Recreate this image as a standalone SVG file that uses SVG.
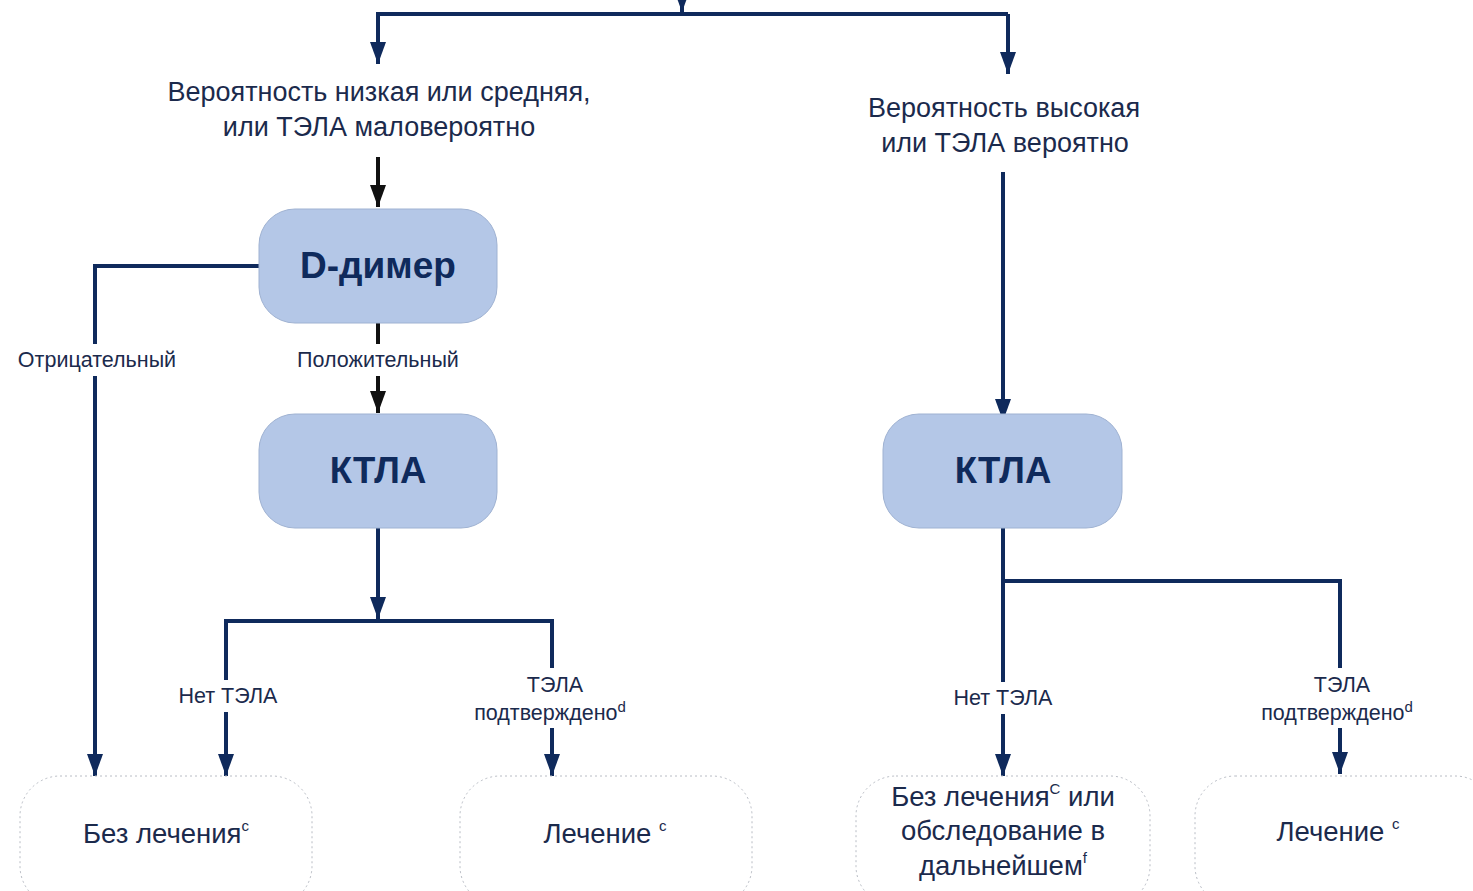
<svg xmlns="http://www.w3.org/2000/svg" width="1473" height="891" viewBox="0 0 1473 891">
<style>
.t{font-family:"Liberation Sans",Arial,sans-serif;fill:#1b2a4c;text-anchor:middle}
.big{font-size:27px}
.lbl{font-size:21.5px}
.out{font-size:27.5px}
.hd{font-family:"Liberation Sans",Arial,sans-serif;font-weight:bold;fill:#0f2a5c;text-anchor:middle}
.box{fill:#b4c7e7;stroke:#9fb2d2;stroke-width:1}
.obox{fill:#ffffff;stroke:#b8bcc4;stroke-width:1;stroke-dasharray:2 3}
.c{fill:none;stroke:#0f2a5c;stroke-width:4}
.k{fill:none;stroke:#111111;stroke-width:4}
.sup{font-size:15px}
</style>
<defs>
<marker id="a" viewBox="0 0 22 16" refX="22" refY="8" markerWidth="22" markerHeight="16" markerUnits="userSpaceOnUse" orient="auto"><path d="M0,0 L22,8 L0,16 z" fill="#0f2a5c"/></marker>
<marker id="ak" viewBox="0 0 22 16" refX="22" refY="8" markerWidth="22" markerHeight="16" markerUnits="userSpaceOnUse" orient="auto"><path d="M0,0 L22,8 L0,16 z" fill="#111111"/></marker>
</defs>
<rect width="1473" height="891" fill="#ffffff"/>
<g id="connectors">
<path class="c" d="M682,0 L682,12" marker-end="url(#a)"/>
<path class="c" d="M376,14 L1008,14"/>
<path class="c" d="M378,14 L378,64" marker-end="url(#a)"/>
<path class="c" d="M1008,14 L1008,74" marker-end="url(#a)"/>
<path class="k" d="M378,157 L378,207" marker-end="url(#ak)"/>
<path class="c" d="M1003,172 L1003,421" marker-end="url(#a)"/>
<path class="c" d="M259,266 L95,266 L95,776" marker-end="url(#a)"/>
<path class="k" d="M378,323 L378,413" marker-end="url(#ak)"/>
<path class="c" d="M378,528 L378,619" marker-end="url(#a)"/>
<path class="c" d="M226,776 L226,621 L552,621 L552,776" marker-end="url(#a)"/>
<path class="c" d="M226,640 L226,776" marker-end="url(#a)"/>
<path class="c" d="M1003,528 L1003,776" marker-end="url(#a)"/>
<path class="c" d="M1003,581 L1340,581 L1340,774" marker-end="url(#a)"/>
<rect x="8" y="344" width="180" height="32" fill="#ffffff"/>
<text class="t lbl" x="97" y="367">Отрицательный</text>
<rect x="290" y="344" width="176" height="32" fill="#ffffff"/>
<text class="t lbl" x="378" y="367">Положительный</text>
<rect x="168" y="680" width="120" height="32" fill="#ffffff"/>
<text class="t lbl" x="228" y="703">Нет ТЭЛА</text>
<rect x="466" y="668" width="172" height="60" fill="#ffffff"/>
<text class="t lbl" x="555" y="692">ТЭЛА</text>
<text class="t lbl" x="550" y="720">подтверждено<tspan class="sup" dy="-8">d</tspan></text>
<rect x="943" y="682" width="120" height="32" fill="#ffffff"/>
<text class="t lbl" x="1003" y="705">Нет ТЭЛА</text>
<rect x="1254" y="668" width="172" height="60" fill="#ffffff"/>
<text class="t lbl" x="1342" y="692">ТЭЛА</text>
<text class="t lbl" x="1337" y="720">подтверждено<tspan class="sup" dy="-8">d</tspan></text>
</g>
<g id="n-low">
<text class="t big" x="379" y="101">Вероятность низкая или средняя,</text>
<text class="t big" x="379" y="136">или ТЭЛА маловероятно</text>
</g>
<g id="n-high">
<text class="t big" x="1004" y="117">Вероятность высокая</text>
<text class="t big" x="1005" y="152">или ТЭЛА вероятно</text>
</g>
<g id="n-ddimer">
<rect class="box" x="259" y="209" width="238" height="114" rx="36"/>
<text class="hd" x="378" y="278" font-size="37">D-димер</text>
</g>
<g id="n-ktla1">
<rect class="box" x="259" y="414" width="238" height="114" rx="36"/>
<text class="hd" x="378" y="483" font-size="36.5">КТЛА</text>
</g>
<g id="n-ktla2">
<rect class="box" x="883" y="414" width="239" height="114" rx="36"/>
<text class="hd" x="1003" y="483" font-size="36.5">КТЛА</text>
</g>
<g id="n-out1">
<rect class="obox" x="20" y="776" width="292" height="130" rx="40"/>
<text class="t out" x="166" y="843">Без лечения<tspan class="sup" dy="-12">c</tspan></text>
</g>
<g id="n-out2">
<rect class="obox" x="460" y="776" width="292" height="130" rx="40"/>
<text class="t out" x="605" y="843">Лечение <tspan class="sup" dy="-12">c</tspan></text>
</g>
<g id="n-out3">
<rect class="obox" x="856" y="776" width="294" height="130" rx="40"/>
<text class="t out" x="1003" y="806">Без лечения<tspan class="sup" dy="-12">C</tspan><tspan dy="12"> или</tspan></text>
<text class="t out" x="1003" y="840">обследование в</text>
<text class="t out" x="1003" y="875">дальнейшем<tspan class="sup" dy="-12">f</tspan></text>
</g>
<g id="n-out4">
<rect class="obox" x="1195" y="776" width="300" height="130" rx="40"/>
<text class="t out" x="1338" y="841">Лечение <tspan class="sup" dy="-12">c</tspan></text>
</g>
</svg>
